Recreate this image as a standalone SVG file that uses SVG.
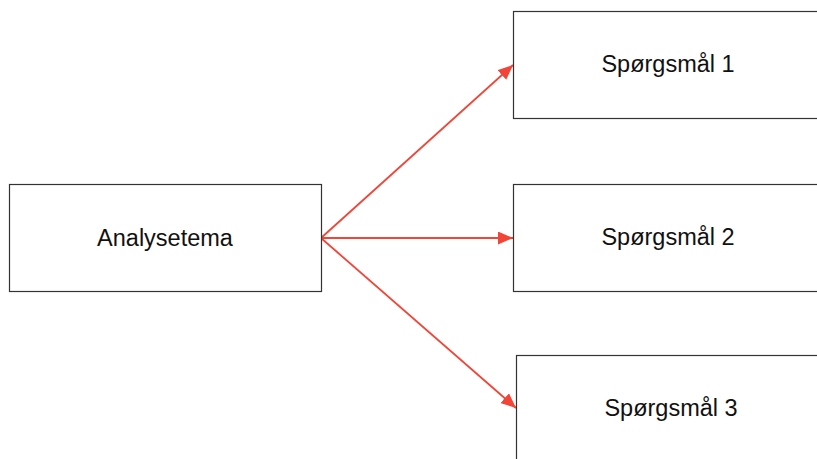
<svg xmlns="http://www.w3.org/2000/svg" width="817" height="459" viewBox="0 0 817 459">
<style>
.box{fill:#ffffff;stroke:#333333;stroke-width:1.2}
.lbl{font-family:"Liberation Sans",Arial,sans-serif;font-size:23.5px;fill:#111111;text-anchor:middle}
.edge{stroke:#f24437;stroke-width:1.8;fill:none}
</style>
<defs>
<marker id="arr" markerWidth="16" markerHeight="13" refX="15" refY="6.5" orient="auto" markerUnits="userSpaceOnUse">
<path d="M0,0 L15,6.5 L0,13 Z" fill="#f24437"/>
</marker>
</defs>
<rect width="817" height="459" fill="#ffffff"/>
<g id="connectors">
<line class="edge" x1="321" y1="238" x2="513" y2="65" marker-end="url(#arr)"/>
<line class="edge" x1="321" y1="238" x2="513" y2="238" marker-end="url(#arr)"/>
<line class="edge" x1="321" y1="238" x2="516" y2="408" marker-end="url(#arr)"/>
</g>
<g id="analysetema">
<rect class="box" x="9.5" y="184.5" width="312" height="107"/>
<text class="lbl" x="165" y="245.5">Analysetema</text>
</g>
<g id="sporgsmal1">
<rect class="box" x="513.5" y="11.5" width="312" height="107"/>
<text class="lbl" x="668" y="72">Spørgsmål 1</text>
</g>
<g id="sporgsmal2">
<rect class="box" x="513.5" y="184.5" width="312" height="107"/>
<text class="lbl" x="668" y="245">Spørgsmål 2</text>
</g>
<g id="sporgsmal3">
<rect class="box" x="516.5" y="355.5" width="312" height="107"/>
<text class="lbl" x="671" y="416">Spørgsmål 3</text>
</g>
</svg>
